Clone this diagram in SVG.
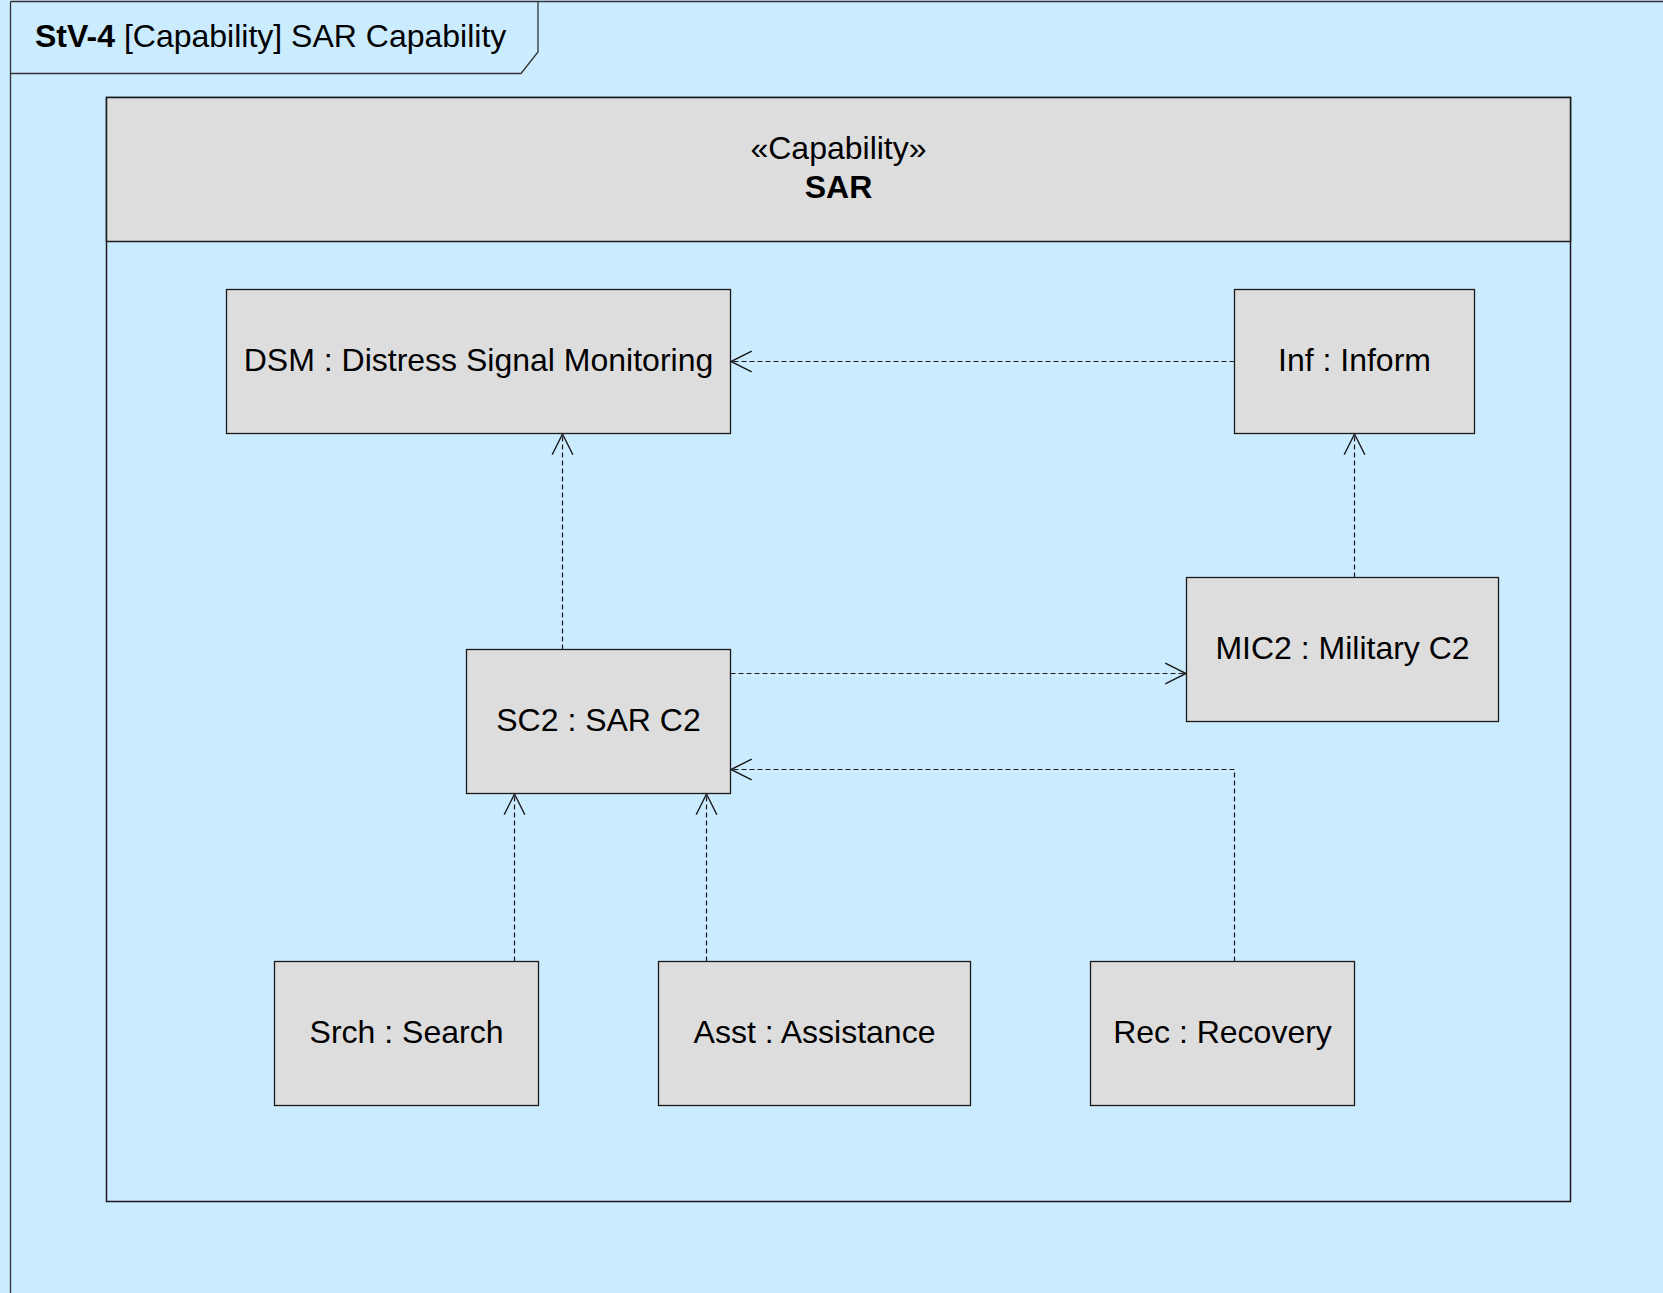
<svg xmlns="http://www.w3.org/2000/svg" width="1663" height="1293" viewBox="0 0 1663 1293">
<defs>
<style>
.node{fill:#dddddd;stroke:#1a1a1a;stroke-width:1.3}
.lbl{font-family:"Liberation Sans",Arial,sans-serif;font-size:32px;fill:#000;text-anchor:middle}
.conn{fill:none;stroke:#1a1a1a;stroke-width:1.2;stroke-dasharray:5,3}
</style>
<marker id="open" markerUnits="userSpaceOnUse" markerWidth="24" markerHeight="24" viewBox="-20 -11 22 22" refX="0" refY="0" orient="auto">
<path d="M-19,-9.5 L0,0 L-19,9.5" fill="none" stroke="#1a1a1a" stroke-width="1.3"/>
</marker>
</defs>
<rect x="0" y="0" width="1663" height="1293" fill="#cbebff"/>
<g id="frame">
<path d="M10.5,1.5 H1663 M10.5,1.5 V1293" fill="none" stroke="#333" stroke-width="1.3"/>
<path d="M10.5,73.5 H521 L538,52 V1.5" fill="none" stroke="#333" stroke-width="1.3"/>
<text x="35" y="47" font-family="'Liberation Sans',Arial,sans-serif" font-size="32" fill="#000"><tspan font-weight="bold">StV-4</tspan> [Capability] SAR Capability</text>
</g>
<g id="SAR">
<rect x="106.5" y="97.5" width="1464" height="1104" fill="#cbebff" stroke="#1a1a1a" stroke-width="1.5"/>
<rect x="106.5" y="97.5" width="1464" height="144" fill="#dddddd" stroke="#1a1a1a" stroke-width="1.5"/>
<text class="lbl" x="838.5" y="159">«Capability»</text>
<text class="lbl" x="838.5" y="198" font-weight="bold">SAR</text>
</g>
<g id="connectors">
<path class="conn" d="M562.5,649.5 V434" marker-end="url(#open)"/>
<path class="conn" d="M1234.5,361.5 H731" marker-end="url(#open)"/>
<path class="conn" d="M1354.5,577.5 V434" marker-end="url(#open)"/>
<path class="conn" d="M730.5,673.5 H1186" marker-end="url(#open)"/>
<path class="conn" d="M1234.5,961.5 V769.5 H731" marker-end="url(#open)"/>
<path class="conn" d="M514.5,961.5 V794" marker-end="url(#open)"/>
<path class="conn" d="M706.5,961.5 V794" marker-end="url(#open)"/>
</g>
<g id="DSM">
<rect class="node" x="226.5" y="289.5" width="504" height="144"/>
<text class="lbl" x="478.5" y="371">DSM : Distress Signal Monitoring</text>
</g>
<g id="Inf">
<rect class="node" x="1234.5" y="289.5" width="240" height="144"/>
<text class="lbl" x="1354.5" y="371">Inf : Inform</text>
</g>
<g id="MIC2">
<rect class="node" x="1186.5" y="577.5" width="312" height="144"/>
<text class="lbl" x="1342.5" y="659">MIC2 : Military C2</text>
</g>
<g id="SC2">
<rect class="node" x="466.5" y="649.5" width="264" height="144"/>
<text class="lbl" x="598.5" y="731">SC2 : SAR C2</text>
</g>
<g id="Srch">
<rect class="node" x="274.5" y="961.5" width="264" height="144"/>
<text class="lbl" x="406.5" y="1043">Srch : Search</text>
</g>
<g id="Asst">
<rect class="node" x="658.5" y="961.5" width="312" height="144"/>
<text class="lbl" x="814.5" y="1043">Asst : Assistance</text>
</g>
<g id="Rec">
<rect class="node" x="1090.5" y="961.5" width="264" height="144"/>
<text class="lbl" x="1222.5" y="1043">Rec : Recovery</text>
</g>
</svg>
